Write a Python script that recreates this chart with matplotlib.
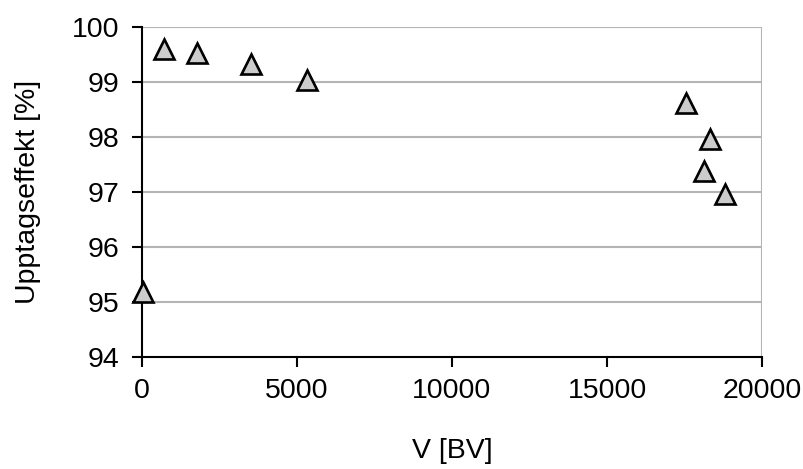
import matplotlib
matplotlib.use("Agg")
import matplotlib.pyplot as plt

# Data
volume_bv = [50, 735, 1780, 3515, 5335, 17550, 18300, 18110, 18790]
uptake_pct = [95.17, 99.6, 99.53, 99.33, 99.03, 98.62, 97.95, 97.38, 96.96]

x_ticks = [0, 5000, 10000, 15000, 20000]
y_ticks = [94, 95, 96, 97, 98, 99, 100]

plt.rcParams['font.family'] = ['Liberation Sans', 'DejaVu Sans']

fig = plt.figure(figsize=(8.04, 4.69), dpi=100)
ax = fig.add_axes([0.1762, 0.2394, 0.9481 - 0.1762, 0.9431 - 0.2394])

grid_c = '#b4b4b4'
for yv in y_ticks[1:]:
    ax.axhline(yv, color=grid_c, lw=1.5, zorder=1)
ax.axvline(20000, color=grid_c, lw=1.5, zorder=1)

ax.plot(volume_bv, uptake_pct, linestyle='none', marker='^', markersize=14.5,
        markerfacecolor='#cccccc', markeredgecolor='black', markeredgewidth=1.9,
        zorder=3, clip_on=False)

ax.set_xlim(0, 20000)
ax.set_ylim(94, 100)
ax.set_xticks(x_ticks)
ax.set_yticks(y_ticks)
ax.set_xticklabels([str(v) for v in x_ticks])
ax.set_yticklabels([str(v) for v in y_ticks])

for s in ['top', 'right']:
    ax.spines[s].set_visible(False)
for s in ['left', 'bottom']:
    ax.spines[s].set_linewidth(1.5)
    ax.spines[s].set_color('black')
    ax.spines[s].set_zorder(2)

fs = 20.5
ax.tick_params(axis='both', direction='out', length=7, width=1.5, labelsize=fs, colors='black')
ax.tick_params(axis='y', pad=9)
ax.tick_params(axis='x', pad=8)

ax.set_xlabel('V [BV]', fontsize=fs, labelpad=25)
ax.set_ylabel('Upptagseffekt [%]', fontsize=fs, labelpad=22)

fig.savefig('out.png', dpi=100)
